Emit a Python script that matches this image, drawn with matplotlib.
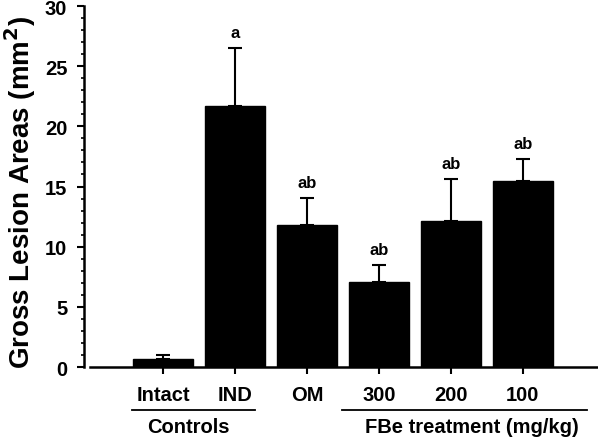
import numpy as np
import matplotlib
matplotlib.use('Agg')
from matplotlib import pyplot as plt
from matplotlib.transforms import blended_transform_factory
from matplotlib.lines import Line2D

plt.rcParams['font.family'] = ['Liberation Sans', 'DejaVu Sans']
plt.rcParams['font.weight'] = 'bold'

groups = ['Intact', 'IND', 'OM', '300', '200', '100']
means = [0.67, 21.7, 11.8, 7.07, 12.1, 15.5]
sems = [0.3, 4.8, 2.25, 1.43, 3.5, 1.8]
letters = ['', 'a', 'ab', 'ab', 'ab', 'ab']

fig = plt.figure(figsize=(5.98, 4.39), dpi=100)
ax = fig.add_axes([0.1405, 0.1617, 0.8578, 0.8223])

x = np.arange(len(groups))
lower = [0] * len(groups)
ax.bar(x, means, width=0.83, color='black', edgecolor='black',
       yerr=[lower, sems], capsize=5,
       error_kw=dict(ecolor='black', elinewidth=1.5, capthick=1.5))

for xi, m, s, t in zip(x, means, sems, letters):
    if t:
        ax.annotate(t, (xi, m + s), xytext=(0, 8), textcoords='offset points',
                    ha='center', va='baseline', fontsize=12, fontweight='bold')

ax.set_xlim(-1.097, 6.03)
ax.set_ylim(0, 30)
ax.set_yticks(np.arange(0, 31, 5))
ax.set_yticks(np.arange(0, 31, 1), minor=True)
ax.set_xticks(x)
ax.set_xticklabels(groups, fontsize=14.5, fontweight='bold')
ax.tick_params(axis='y', which='major', length=5, width=1.5, pad=7, labelsize=14.5)
ax.tick_params(axis='y', which='minor', length=2.5, width=1.2)
ax.tick_params(axis='x', which='major', length=5, width=1.5, pad=8)

for side in ['top', 'right']:
    ax.spines[side].set_visible(False)
ax.spines['left'].set_linewidth(1.8)
ax.spines['bottom'].set_linewidth(1.8)
ax.spines['bottom'].set_bounds(-1.01, 6.03)

ax.set_ylabel('Gross Lesion Areas (mm$^\\mathbf{2}$)', fontsize=20, fontweight='bold')
ax.yaxis.set_label_coords(-0.09, 0.485)

trans = blended_transform_factory(ax.transData, ax.transAxes)
ax.add_line(Line2D([-0.43, 1.28], [-0.119, -0.119], transform=trans, color='black', lw=1.3, clip_on=False))
ax.add_line(Line2D([2.49, 5.89], [-0.119, -0.119], transform=trans, color='black', lw=1.3, clip_on=False))
ax.text(0.35, -0.166, 'Controls', transform=trans, ha='center', va='center', fontsize=14.5, fontweight='bold')
ax.text(4.29, -0.166, 'FBe treatment (mg/kg)', transform=trans, ha='center', va='center', fontsize=14.5, fontweight='bold')

fig.savefig('out.png', dpi=100)
